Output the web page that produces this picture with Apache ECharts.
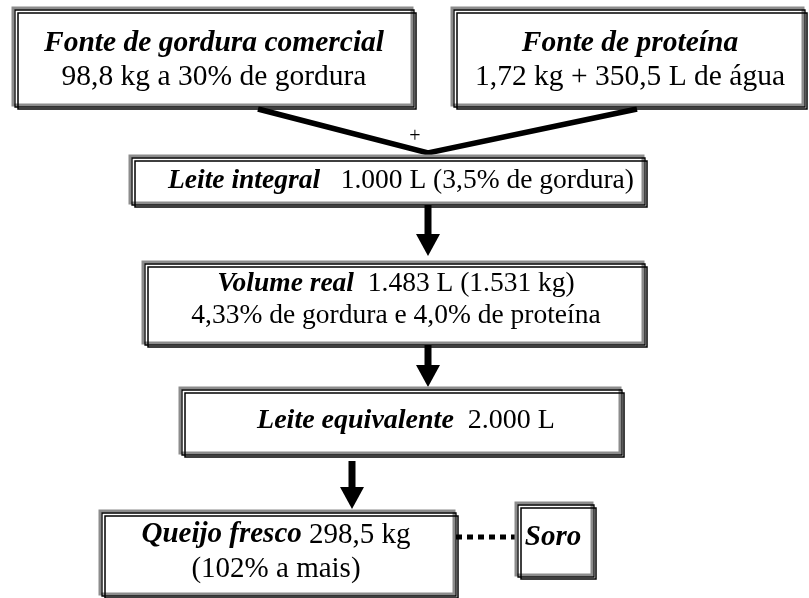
<!DOCTYPE html>
<html><head><meta charset="utf-8">
<script src="https://cdn.jsdelivr.net/npm/echarts@6/dist/echarts.min.js"></script>
<style>html,body{margin:0;padding:0;background:#fff}#c{width:809px;height:598px}</style>
</head><body><div id="c"></div>
<script>
// ---- content ----
const boxTitles = ['Fonte de gordura comercial', 'Fonte de proteína', 'Leite integral', 'Volume real', 'Leite equivalente', 'Queijo fresco', 'Soro'];
const boxLine1 = ['', '', '   1.000 L (3,5% de gordura)', '  1.483 L (1.531 kg)', '  2.000 L', ' 298,5 kg', ''];
const boxLine2 = ['98,8 kg a 30% de gordura', '1,72 kg + 350,5 L de água', '', '4,33% de gordura e 4,0% de proteína', '', '(102% a mais)', ''];
const mergeSymbol = ['+'];

// ---- layout (diagram coordinates) ----
const boxRects = [[13, 8, 412, 105], [452, 8, 803, 105], [130, 156, 643, 203], [143, 262, 643, 343], [180, 388, 620, 453], [100, 511, 454, 594], [516, 503, 592, 575]];
const textCenters = [[214, 60], [630, 60], [401, 181], [396, 300], [406, 421], [276, 552], [553, 538]];
const fontSizes = [29.5, 29.5, 27.5, 27.5, 28, 29, 29];
const mergePoints = [[258, 109, 428, 153, 637, 109]];
const plusPos = [[415, 137]];
const arrowsDown = [[428, 205, 256], [428, 345, 387], [352, 461, 509]];
const dottedLink = [[456, 537, 517, 537]];

const FONT = '"Liberation Serif", "Times New Roman", serif';

function boxText(i) {
  let s = '{b|' + boxTitles[i] + '}';
  if (boxLine1[i]) s += '{r|' + boxLine1[i] + '}';
  if (boxLine2[i]) s += '\n{r|' + boxLine2[i] + '}';
  return s;
}

const chart = echarts.init(document.getElementById('c'), null, { renderer: 'canvas' });
chart.setOption({
  animation: false,
  backgroundColor: '#fff',
  grid: { left: 0, right: 0, top: 0, bottom: 0 },
  xAxis: { type: 'value', min: 0, max: 809, show: false },
  yAxis: { type: 'value', min: 0, max: 598, inverse: true, show: false },
  series: [
    {
      type: 'custom', coordinateSystem: 'cartesian2d', clip: false,
      data: mergePoints,
      renderItem: function (params, api) {
        const a = api.coord([api.value(0), api.value(1)]);
        const b = api.coord([api.value(2), api.value(3)]);
        const c = api.coord([api.value(4), api.value(5)]);
        return { type: 'polyline', shape: { points: [a, b, c] },
          style: { stroke: '#000', lineWidth: 5.5, fill: null, lineJoin: 'miter', lineCap: 'butt' } };
      }
    },
    {
      type: 'custom', coordinateSystem: 'cartesian2d', clip: false,
      data: plusPos,
      renderItem: function (params, api) {
        const p = api.coord([api.value(0), api.value(1)]);
        return { type: 'text', x: p[0], y: p[1],
          style: { text: mergeSymbol[params.dataIndex], font: '20px "Liberation Serif", serif', fill: '#000', align: 'center', verticalAlign: 'middle' } };
      }
    },
    {
      type: 'custom', coordinateSystem: 'cartesian2d', clip: false,
      data: arrowsDown,
      renderItem: function (params, api) {
        const top = api.coord([api.value(0), api.value(1)]);
        const tip = api.coord([api.value(0), api.value(2)]);
        const headH = 22, headW = 12, shaftW = 3.5;
        const x = top[0];
        return { type: 'group', children: [
          { type: 'rect', shape: { x: x - shaftW, y: top[1], width: shaftW * 2, height: tip[1] - top[1] - headH + 1 }, style: { fill: '#000' } },
          { type: 'polygon', shape: { points: [[x - headW, tip[1] - headH], [x + headW, tip[1] - headH], [x, tip[1]]] }, style: { fill: '#000' } }
        ] };
      }
    },
    {
      type: 'custom', coordinateSystem: 'cartesian2d', clip: false,
      data: dottedLink,
      renderItem: function (params, api) {
        const a = api.coord([api.value(0), api.value(1)]);
        const b = api.coord([api.value(2), api.value(3)]);
        return { type: 'line', shape: { x1: a[0], y1: a[1], x2: b[0], y2: b[1] },
          style: { stroke: '#000', lineWidth: 5, lineDash: [6, 5], lineCap: 'butt' } };
      }
    },
    {
      type: 'custom', coordinateSystem: 'cartesian2d', clip: false,
      data: boxRects.map(function (r, i) { return r.concat(textCenters[i]); }),
      renderItem: function (params, api) {
        const i = params.dataIndex;
        const p1 = api.coord([api.value(0), api.value(1)]);
        const p2 = api.coord([api.value(2), api.value(3)]);
        const t = api.coord([api.value(4), api.value(5)]);
        const w = p2[0] - p1[0], h = p2[1] - p1[1];
        const fs = fontSizes[i];
        const lh = Math.round(fs * 1.16);
        return { type: 'group', children: [
          { type: 'rect', shape: { x: p1[0], y: p1[1], width: w, height: h }, style: { fill: '#fff', stroke: '#8c8c8c', lineWidth: 3 } },
          { type: 'rect', shape: { x: p1[0] + 2, y: p1[1] + 2, width: w, height: h }, style: { fill: 'transparent', stroke: '#000', lineWidth: 1.3 } },
          { type: 'rect', shape: { x: p1[0] + 5, y: p1[1] + 5, width: w - 1, height: h - 1 }, style: { fill: 'transparent', stroke: '#000', lineWidth: 1.5 } },
          { type: 'text', x: t[0], y: t[1], style: {
              text: boxText(i), align: 'center', verticalAlign: 'middle',
              rich: {
                b: { fontFamily: FONT, fontSize: fs, fontWeight: 'bold', fontStyle: 'italic', fill: '#000', lineHeight: lh },
                r: { fontFamily: FONT, fontSize: fs, fill: '#000', lineHeight: lh }
              } } }
        ] };
      }
    }
  ]
});
</script>
</body></html>
